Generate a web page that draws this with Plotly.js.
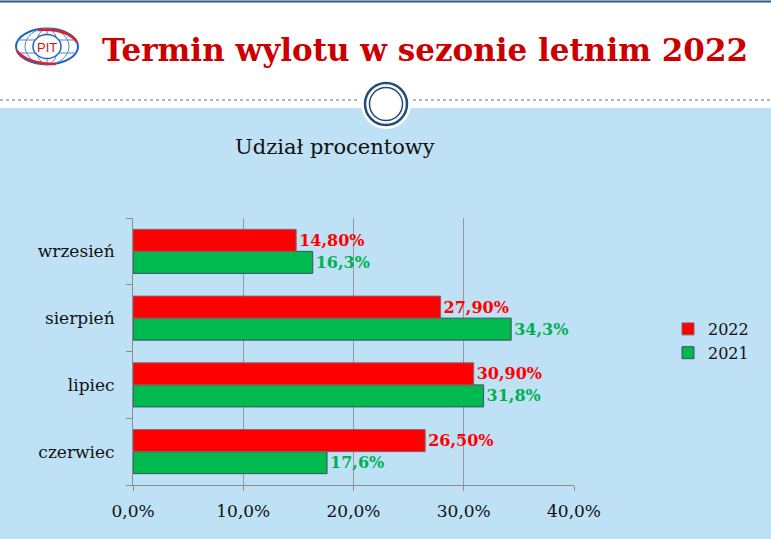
<!DOCTYPE html>
<html>
<head>
    <meta charset="UTF-8">
    <title>Termin wylotu</title>
    <script src="https://cdn.plot.ly/plotly-3.0.1.min.js"></script>
    <style>
        body { margin: 0; padding: 0; background: #ffffff; }
        #chart { width: 771px; height: 539px; }
    </style>
</head>
<body>
    <div id="chart"></div>

    <script>
        // data
        var months = ['czerwiec', 'lipiec', 'sierpień', 'wrzesień'];
        var share2022 = [26.5, 30.9, 27.9, 14.8];
        var share2021 = [17.6, 31.8, 34.3, 16.3];
        var xTicks = [0, 10, 20, 30, 40];
        var xTickText = xTicks.map(v => v.toFixed(1).replace('.', ',') + '%');

        var serif = '"DejaVu Serif", "Liberation Serif", serif';
        var red = '#ff0000';
        var green = '#00b94f';
        var greenText = '#00b050';

        // plot area in page pixels, used to place the slide decoration
        var L = 133, R = 574, T = 218, B = 485;
        function fx(p) { return (p - L) / (R - L); }
        function fy(p) { return (B - p) / (B - T); }

        function rect(x0, y0, x1, y1, fill) {
            return { type: 'rect', xref: 'paper', yref: 'paper', layer: 'below',
                x0: fx(x0), x1: fx(x1), y0: fy(y1), y1: fy(y0),
                fillcolor: fill, line: { width: 0 } };
        }
        function circle(cx, cy, rx, ry, lineColor, lineWidth, fill) {
            return { type: 'circle', xref: 'paper', yref: 'paper', layer: 'above',
                x0: fx(cx - rx), x1: fx(cx + rx), y0: fy(cy + ry), y1: fy(cy - ry),
                fillcolor: fill || 'rgba(0,0,0,0)',
                line: { color: lineColor, width: lineWidth } };
        }
        function line(x0, y0, x1, y1, color, width, dash) {
            return { type: 'line', xref: 'paper', yref: 'paper', layer: 'above',
                x0: fx(x0), x1: fx(x1), y0: fy(y0), y1: fy(y1),
                line: { color: color, width: width, dash: dash || 'solid' } };
        }
        function curve(pts, color, width) {
            var d = 'M ' + fx(pts[0]) + ',' + fy(pts[1]) +
                ' Q ' + fx(pts[2]) + ',' + fy(pts[3]) + ' ' + fx(pts[4]) + ',' + fy(pts[5]);
            return { type: 'path', xref: 'paper', yref: 'paper', layer: 'above', path: d,
                line: { color: color, width: width } };
        }

        var trace2021 = {
            y: months,
            x: share2021,
            name: '2021',
            type: 'bar',
            orientation: 'h',
            marker: { color: green, line: { color: '#3d4f66', width: 1 } },
            texttemplate: '%{x:.1f}%',
            textposition: 'outside',
            cliponaxis: false,
            textfont: { family: serif, size: 16, color: greenText, weight: 'bold' },
            hoverinfo: 'x+y'
        };

        var trace2022 = {
            y: months,
            x: share2022,
            name: '2022',
            type: 'bar',
            orientation: 'h',
            marker: { color: red, line: { color: '#8a6070', width: 1 } },
            texttemplate: '%{x:.2f}%',
            textposition: 'outside',
            cliponaxis: false,
            textfont: { family: serif, size: 16, color: red, weight: 'bold' },
            hoverinfo: 'x+y'
        };

        var shapes = [
            rect(-5, 108, 776, 545, '#bee1f5'),
            line(0, 1.5, 771, 1.5, '#2a5783', 2),
            line(0, 100, 359, 100, '#4f73a0', 1.2, 'dot'),
            line(413, 100, 771, 100, '#4f73a0', 1.2, 'dot'),
            circle(386, 104, 25, 25, 'rgba(0,0,0,0)', 0, '#ffffff'),
            circle(386, 104, 21, 21, '#1f4e79', 2.5),
            circle(386, 104, 16.5, 16.5, '#1f4e79', 1.5),
            // PIT logo
            circle(47, 46.5, 31, 18, '#1f63c0', 2, '#ffffff'),
            circle(47, 46.5, 22, 18, '#4a86d0', 1),
            circle(47, 46.5, 11, 18, '#4a86d0', 1),
            line(17, 40, 77, 40, '#4a86d0', 1),
            line(17, 53, 77, 53, '#4a86d0', 1),
            line(47, 29, 47, 64, '#4a86d0', 1),
            curve([38, 30, 66, 28, 77, 42], '#e0202a', 2.5),
            curve([17, 51, 28, 64, 56, 64], '#e0202a', 2.5),
            circle(47, 46.5, 14, 12, '#1f63c0', 1.5, '#ffffff')
        ];

        var annotations = [
            { xref: 'paper', yref: 'paper', x: fx(100), y: fy(50), xanchor: 'left', yanchor: 'middle',
              text: 'Termin wylotu w sezonie letnim 2022', showarrow: false,
              font: { family: serif, size: 31, color: '#cc0000', weight: 'bold' } },
            { xref: 'paper', yref: 'paper', x: fx(47), y: fy(47), xanchor: 'center', yanchor: 'middle',
              text: 'PIT', showarrow: false,
              font: { family: 'Liberation Sans, sans-serif', size: 13, color: '#d01020' } },
            { xref: 'paper', yref: 'paper', x: fx(335), y: fy(147), xanchor: 'center', yanchor: 'middle',
              text: 'Udział procentowy', showarrow: false,
              font: { family: serif, size: 21, color: '#111111' } }
        ];

        var layout = {
            width: 771,
            height: 539,
            margin: { l: L, r: 771 - R, t: T, b: 539 - B, pad: 0 },
            paper_bgcolor: '#ffffff',
            plot_bgcolor: 'rgba(0,0,0,0)',
            separators: ', ',
            barmode: 'group',
            bargap: 0.34,
            bargroupgap: 0,
            showlegend: true,
            legend: {
                x: fx(668), y: fy(312), xanchor: 'left', yanchor: 'top',
                traceorder: 'reversed',
                font: { family: serif, size: 16, color: '#111111' },
                bgcolor: 'rgba(0,0,0,0)',
                itemwidth: 30
            },
            xaxis: {
                range: [0, 40],
                tickmode: 'array',
                tickvals: xTicks,
                ticktext: xTickText,
                showgrid: true,
                gridcolor: '#9a9a9a',
                gridwidth: 1,
                showline: true,
                linecolor: '#8c8c8c',
                ticks: 'outside',
                ticklen: 5,
                tickcolor: '#8c8c8c',
                ticklabelstandoff: 6,
                zeroline: false,
                tickfont: { family: serif, size: 17, color: '#111111' },
                fixedrange: true
            },
            yaxis: {
                type: 'category',
                categoryorder: 'array',
                categoryarray: months,
                tickson: 'boundaries',
                ticks: 'outside',
                ticklen: 6,
                tickcolor: '#8c8c8c',
                showline: true,
                linecolor: '#8c8c8c',
                showgrid: false,
                ticklabelstandoff: 14,
                tickfont: { family: serif, size: 17, color: '#111111' },
                fixedrange: true
            },
            shapes: shapes,
            annotations: annotations
        };

        Plotly.newPlot('chart', [trace2021, trace2022], layout, { displayModeBar: false, staticPlot: true });
    </script>
</body>
</html>
